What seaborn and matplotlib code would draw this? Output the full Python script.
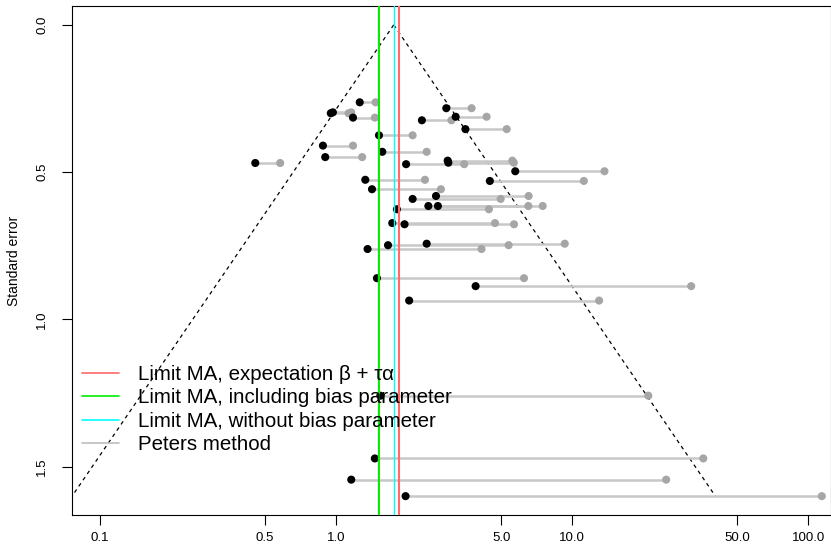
import numpy as np
import matplotlib
matplotlib.use("Agg")
import matplotlib.pyplot as plt
import seaborn as sns
from matplotlib.lines import Line2D

# ---- data ----
se = [0.263, 0.283, 0.300, 0.297, 0.312, 0.315, 0.324, 0.354, 0.375, 0.410,
      0.431, 0.449, 0.461, 0.468, 0.473, 0.469, 0.497, 0.526, 0.530, 0.558,
      0.581, 0.591, 0.615, 0.615, 0.626, 0.673, 0.677, 0.743, 0.748, 0.761,
      0.860, 0.887, 0.936, 1.259, 1.472, 1.544, 1.600]
adjusted = [1.26, 2.93, 0.95, 0.97, 3.21, 1.18, 2.31, 3.53, 1.52, 0.88,
            1.57, 0.90, 2.97, 2.99, 1.98, 0.455, 5.74, 1.33, 4.48, 1.42,
            2.65, 2.11, 2.46, 2.70, 1.81, 1.73, 1.95, 2.42, 1.66, 1.36,
            1.49, 3.90, 2.04, 1.54, 1.46, 1.16, 1.97]
original = [1.47, 3.75, 1.13, 1.16, 4.34, 1.46, 3.08, 5.28, 2.11, 1.18,
            2.42, 1.29, 5.58, 5.66, 3.49, 0.58, 13.7, 2.38, 11.2, 2.78,
            6.54, 4.98, 6.52, 7.50, 4.44, 4.71, 5.67, 9.30, 5.38, 4.13,
            6.25, 31.9, 13.0, 21.0, 35.9, 25.0, 114.0]

limit_expectation = 1.84   # red
limit_bias = 1.515         # green
limit_nobias = 1.755       # cyan
peters = 1.50              # grey
funnel_centre = 1.755
z = 1.96

legend_labels = ["Limit MA, expectation \u03b2 + \u03c4\u03b1",
                 "Limit MA, including bias parameter",
                 "Limit MA, without bias parameter",
                 "Peters method"]
legend_colors = ["#FF6A6A", "#00EE00", "#00FFFF", "#BEBEBE"]

xticks = [0.1, 0.5, 1, 5, 10, 50, 100]
xtick_labels = ["0.1", "0.5", "1.0", "5.0", "10.0", "50.0", "100.0"]
yticks = [0.0, 0.5, 1.0, 1.5]
ytick_labels = ["0.0", "0.5", "1.0", "1.5"]

# ---- style ----
sns.set_style("ticks")
plt.rcParams["font.family"] = ["Liberation Sans", "DejaVu Sans"]
plt.rcParams["text.color"] = "black"
plt.rcParams["axes.labelcolor"] = "black"
plt.rcParams["xtick.color"] = "black"
plt.rcParams["ytick.color"] = "black"

fig = plt.figure(figsize=(8.31, 5.48), dpi=100)
ax = fig.add_axes([72 / 831, 33 / 548, 759 / 831, 509 / 548])

# funnel
se_grid = np.linspace(0, max(se), 60)
ax.plot(funnel_centre * np.exp(-z * se_grid), se_grid, color="black",
        lw=0.9, ls=(0, (3, 3)), zorder=1)
ax.plot(funnel_centre * np.exp(z * se_grid), se_grid, color="black",
        lw=0.9, ls=(0, (3, 3)), zorder=1)

# connecting segments
ax.hlines(se, adjusted, original, color="#C8C8C8", lw=1.8, zorder=2)

sns.scatterplot(x=original, y=se, ax=ax, color="#A6A6A6", s=34,
                edgecolor="none", linewidth=0, zorder=3)
sns.scatterplot(x=adjusted, y=se, ax=ax, color="black", s=34,
                edgecolor="none", linewidth=0, zorder=4)

# vertical limit lines
ax.axvline(peters, color="#A0A0A0", lw=1.0, zorder=5)
ax.axvline(limit_bias, color="#00EE00", lw=1.4, zorder=5)
ax.axvline(limit_nobias, color="#00FFFF", lw=1.0, zorder=5)
ax.axvline(limit_expectation, color="#FF6A6A", lw=1.5, zorder=5)

ax.set_xscale("log")
ax.set_xlim(0.0762, 124.7)
ax.set_ylim(1.664, -0.064)
ax.set_xticks(xticks)
ax.set_xticklabels(xtick_labels)
ax.minorticks_off()
ax.set_yticks(yticks)
ax.set_yticklabels(ytick_labels, rotation=90, va="center")
ax.tick_params(axis="both", direction="out", length=7, width=0.8,
               labelsize=9.5, color="black", labelcolor="black")
ax.tick_params(axis="x", pad=5)
ax.tick_params(axis="y", pad=10)

for s in ax.spines.values():
    s.set_color("black")
    s.set_linewidth(0.8)

ax.set_xlabel("")
ax.set_ylabel("Standard error", fontsize=10, va="center", color="black")
ax.yaxis.set_label_coords(-0.0764, 0.5)

handles = [Line2D([0], [0], color=c, lw=1.2) for c in legend_colors]
leg = ax.legend(handles, legend_labels, loc="upper left",
                bbox_to_anchor=(0.0132, 0.295), frameon=False,
                fontsize=14.8, handlelength=1.8, handletextpad=0.9,
                labelspacing=0.22, borderaxespad=0, borderpad=0,
                labelcolor="black")
leg.set_zorder(10)

fig.savefig("out.png", dpi=100)
